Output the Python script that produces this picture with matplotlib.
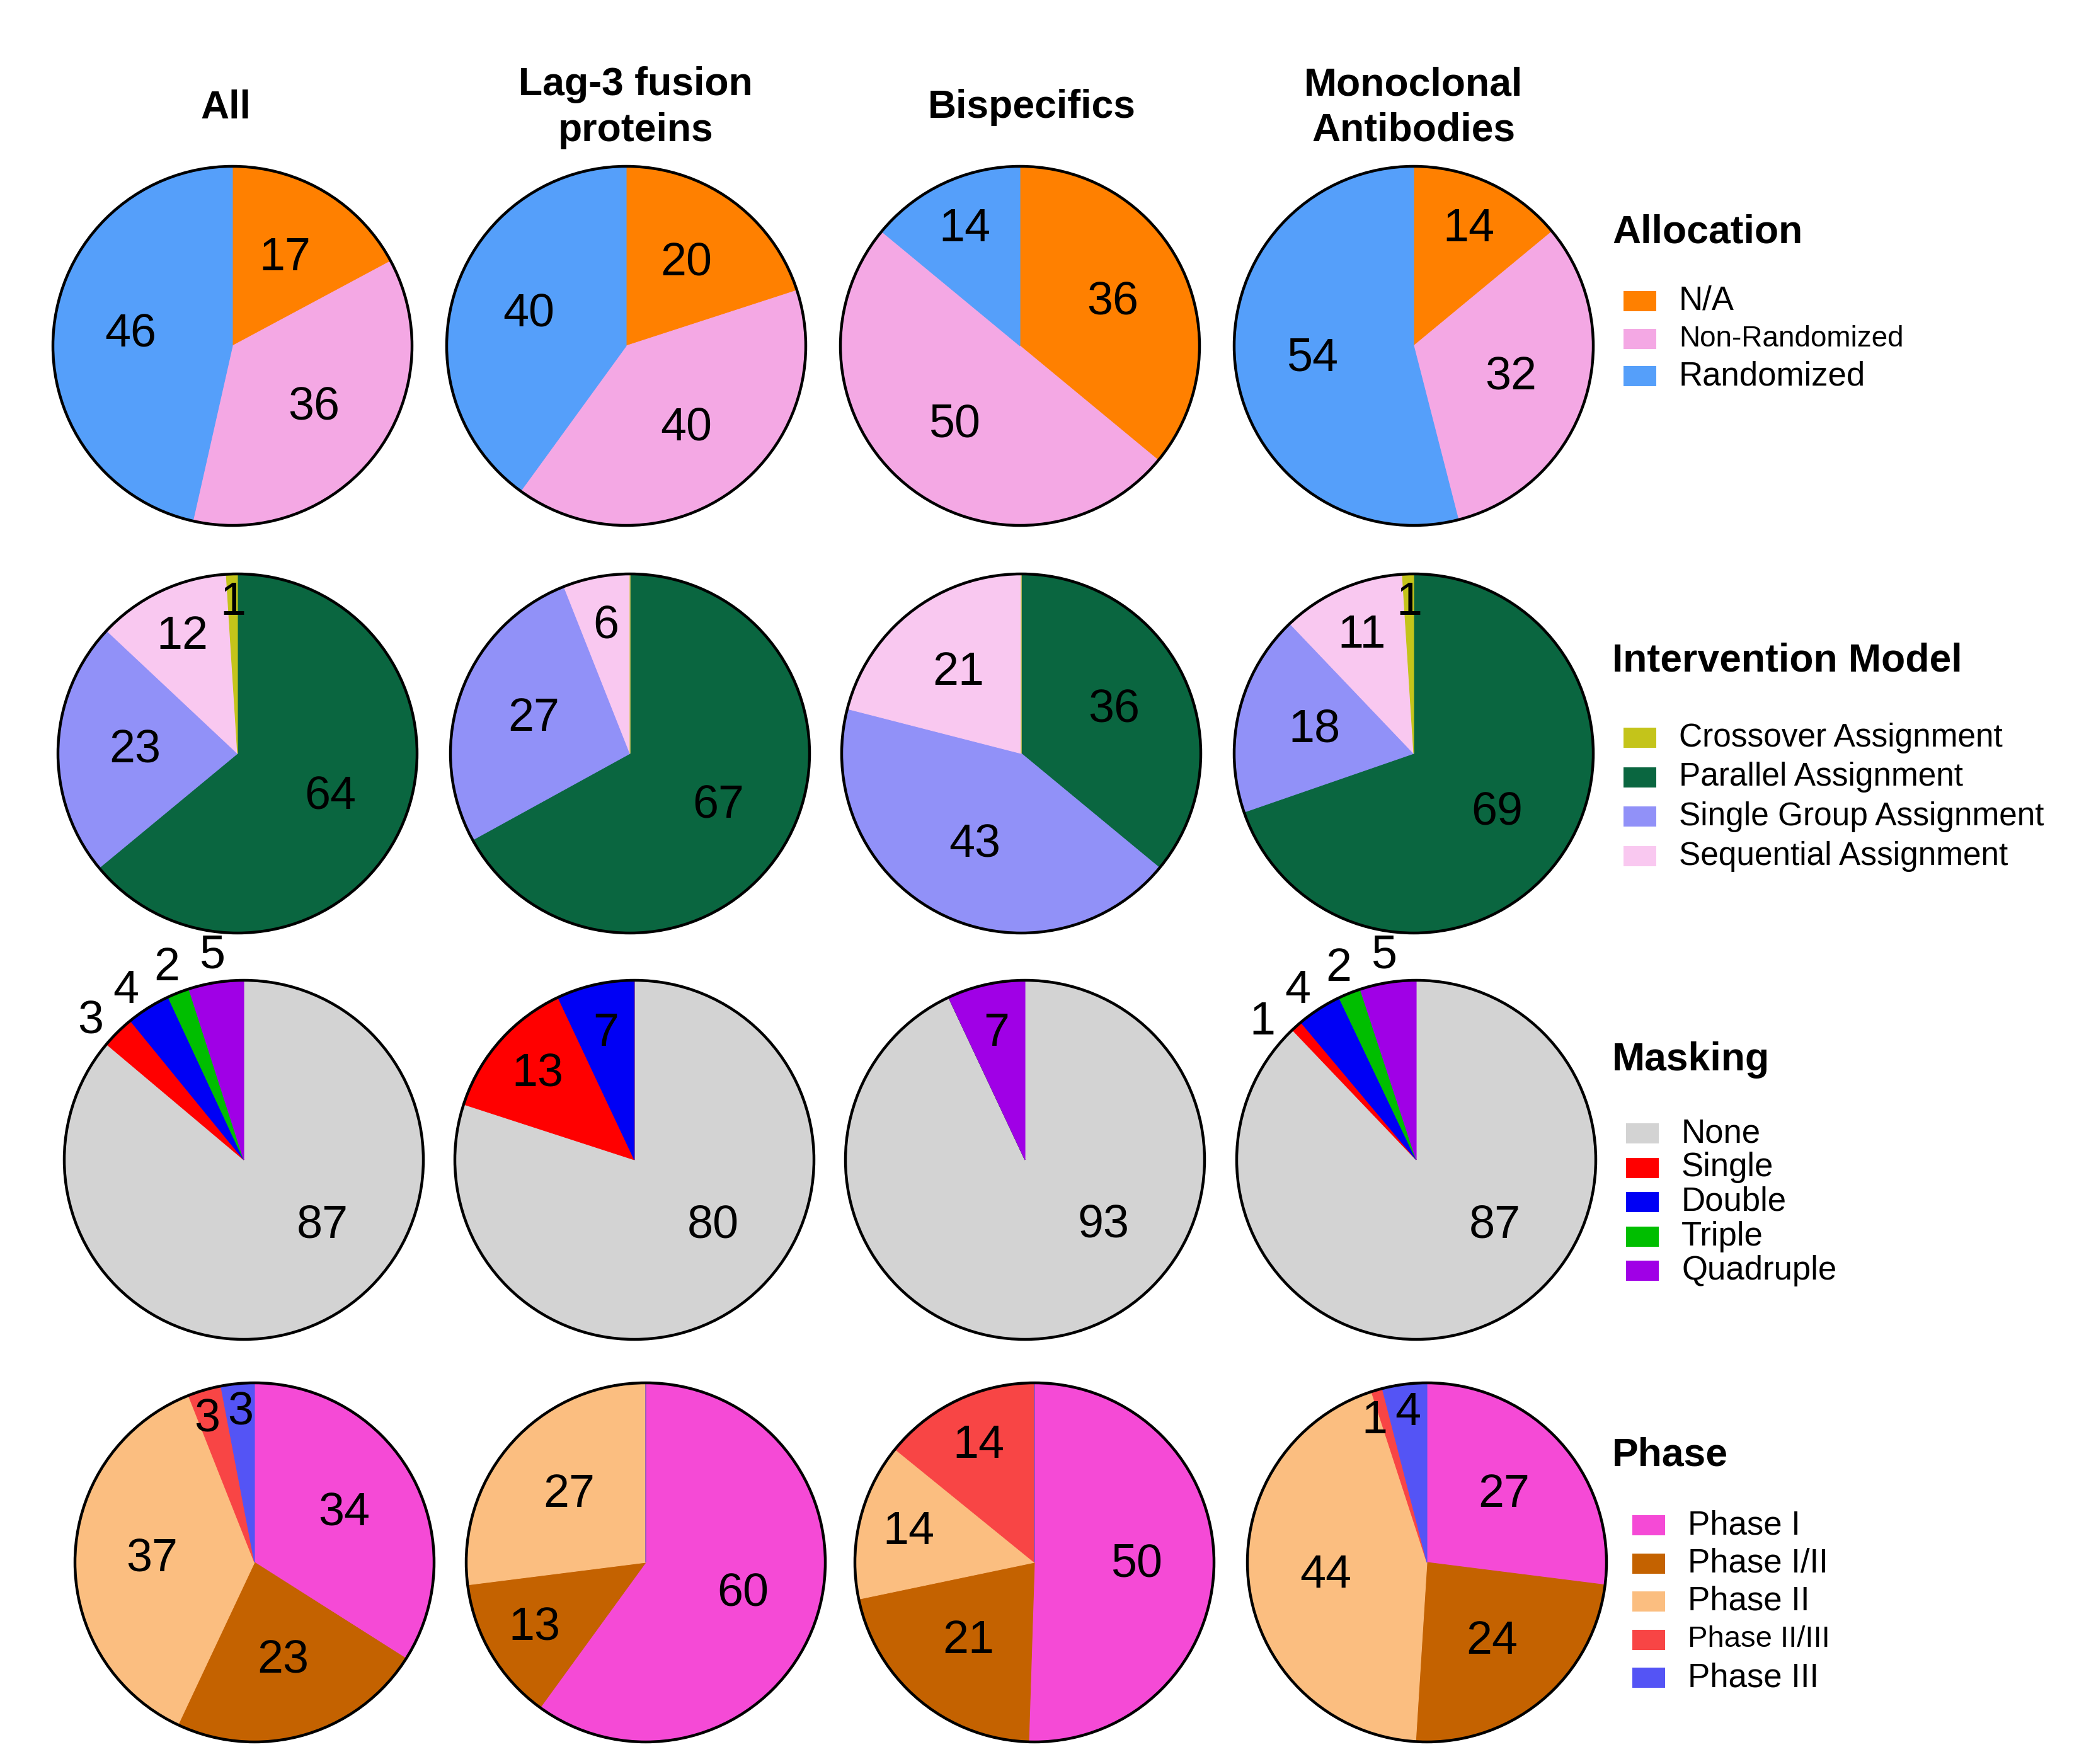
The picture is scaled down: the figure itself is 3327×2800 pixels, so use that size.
import numpy as np
import matplotlib.pyplot as plt
from matplotlib.patches import Circle, Rectangle

plt.rcParams['font.family'] = ['Liberation Sans', 'DejaVu Sans']

# ---- data -------------------------------------------------------------
groups = ['All', 'Lag-3 fusion\nproteins', 'Bispecifics', 'Monoclonal\nAntibodies']

alloc_labels = ['N/A', 'Non-Randomized', 'Randomized']
alloc_colors = ['#FF8000', '#F4A8E4', '#559FFA']
alloc_values = [[17, 36, 46], [20, 40, 40], [36, 50, 14], [14, 32, 54]]

model_labels = ['Crossover Assignment', 'Parallel Assignment',
                'Single Group Assignment', 'Sequential Assignment']
model_colors = ['#C4C41A', '#0A6640', '#9191F8', '#F9C8F0']
model_values = [[1, 64, 23, 12], [0, 67, 27, 6], [0, 36, 43, 21], [1, 69, 18, 11]]
model_order = [1, 2, 3, 0]   # clockwise from 12 o'clock

mask_labels = ['None', 'Single', 'Double', 'Triple', 'Quadruple']
mask_colors = ['#D3D3D3', '#FF0000', '#0000F5', '#00BE00', '#A000E6']
mask_values = [[87, 3, 4, 2, 5], [80, 13, 7, 0, 0], [93, 0, 0, 0, 7], [87, 1, 4, 2, 5]]

phase_labels = ['Phase I', 'Phase I/II', 'Phase II', 'Phase II/III', 'Phase III']
phase_colors = ['#F54AD6', '#C46200', '#FBBE80', '#F84545', '#5454F5']
phase_values = [[34, 23, 37, 3, 3], [60, 13, 27, 0, 0], [50, 21, 14, 14, 0], [27, 24, 44, 1, 4]]

# ---- layout (pixels, measured from the top) ----------------------------
W, H = 3327, 2800
R = 285
row_y = [549, 1196, 1841, 2480]
col_x = [[369, 994, 1619, 2244],
         [377, 1000, 1621, 2244],
         [387, 1007, 1627, 2248],
         [404, 1025, 1642, 2265]]
title_x = [358, 1009, 1638, 2244]
title_y = 171

fig = plt.figure(figsize=(W / 100, H / 100), dpi=100)
ax = fig.add_axes([0, 0, 1, 1])


def label_radius(v, outside_small):
    if v <= 5:
        return 1.15 if outside_small else 0.84
    if v < 16:
        return 0.72
    return 0.57


def draw_pie(vals, cols, cx, cy, outside_small=False):
    cy = H - cy
    wedges, _ = ax.pie(vals, colors=cols, startangle=90, counterclock=False,
                       center=(cx, cy), radius=R, frame=True,
                       wedgeprops=dict(linewidth=0))
    for w in wedges:
        w.set_edgecolor(w.get_facecolor())
        w.set_linewidth(0.8)
    ax.add_patch(Circle((cx, cy), R, fill=False, ec='black', lw=3.2, zorder=5))

    # label angles; small slices near the top are spread apart a little
    angles = []
    for w, v in zip(wedges, vals):
        theta = (w.theta1 + w.theta2) / 2
        if v > 75:
            theta = -40
        angles.append(theta)
    small = [i for i, v in enumerate(vals) if 0 < v <= 5]
    small.sort(key=lambda i: (angles[i] - 90) % 360)
    prev = None
    for i in small:
        a = (angles[i] - 90) % 360
        if prev is not None and a < prev + 13:
            a = prev + 13
        angles[i] = a + 90
        prev = a

    for theta, v in zip(angles, vals):
        if v == 0:
            continue
        f = label_radius(v, outside_small)
        t = np.deg2rad(theta)
        ax.text(cx + R * f * np.cos(t), cy + R * f * np.sin(t), str(v),
                ha='center', va='center', fontsize=53, zorder=6)


for j in range(4):
    ax.text(title_x[j], H - title_y, groups[j], ha='center', va='center',
            fontsize=45, fontweight='bold', linespacing=1.3)

    draw_pie(alloc_values[j], alloc_colors, col_x[0][j], row_y[0])
    draw_pie([model_values[j][k] for k in model_order],
             [model_colors[k] for k in model_order], col_x[1][j], row_y[1])
    draw_pie(mask_values[j], mask_colors, col_x[2][j], row_y[2], outside_small=True)
    draw_pie(phase_values[j], phase_colors, col_x[3][j], row_y[3])

# ---- legends ---------------------------------------------------------
legend_title_x = 2559
legends = [
    ('Allocation', alloc_labels, alloc_colors, 369, 478, 59.5, [38, 33, 38], 2577),
    ('Intervention Model', model_labels, model_colors, 1049, 1171, 62.7, [37] * 4, 2577),
    ('Masking', mask_labels, mask_colors, 1683, 1799, 54.5, [38] * 5, 2581),
    ('Phase', phase_labels, phase_colors, 2310, 2421, 60.5, [38, 38, 38, 34, 38], 2591),
]
for title, labels, colors, ty, y0, step, sizes, px in legends:
    ax.text(legend_title_x, H - ty, title, ha='left', va='center',
            fontsize=45, fontweight='bold')
    for i, (lab, c) in enumerate(zip(labels, colors)):
        y = H - (y0 + i * step)
        ax.add_patch(Rectangle((px, y - 16), 52, 32, color=c, lw=0))
        ax.text(px + 88, y, lab, ha='left', va='center', fontsize=sizes[i])

ax.set_xlim(0, W)
ax.set_ylim(0, H)
ax.set_aspect('equal')
ax.axis('off')

fig.savefig('out.png', dpi=100, facecolor='white')
